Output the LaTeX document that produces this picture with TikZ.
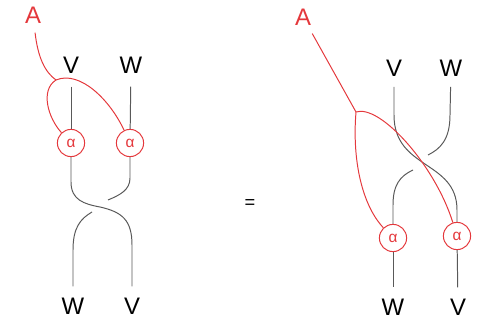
\documentclass[tikz,border=0pt]{standalone}
\usepackage{fontspec}
\setmainfont{Liberation Sans}
\definecolor{knotred}{RGB}{228,56,60}
\tikzset{
  lbl/.style={font=\fontsize{17}{19}\selectfont, inner sep=0pt},
  strand/.style={draw=black!65, line width=0.7pt},
  actline/.style={draw=knotred, line width=0.7pt},
  alphanode/.style={circle, draw=knotred, text=knotred, line width=0.7pt,
    minimum size=0.68cm, inner sep=0pt, font=\fontsize{11}{13}\selectfont}
}
\begin{document}
\begin{tikzpicture}[x=0.025cm,y=-0.025cm]
    %\draw[help lines,step=20] (0,0) grid (480,320);
    \useasboundingbox (0,0) rectangle (480,320);
    % left hand side
       \node[lbl,text=knotred] (a1) at (33,15) {A};
       \node[lbl] (v1) at (71,65) {V};
       \node[lbl] (w1) at (131,65) {W};
       \node[alphanode] (al1) at (71,143) {α};
       \node[alphanode] (al2) at (130,143) {α};
       \node[lbl] (w1b) at (73,306) {W};
       \node[lbl] (v1b) at (132,306) {V};
       \coordinate (br1) at (56,80);
       \coordinate (gap1a) at (108,200);
       \coordinate (gap1b) at (92,212);
       \draw[strand,shorten <=0.33cm] (v1) -- (al1);
       \draw[strand,shorten <=0.33cm] (w1) -- (al2);
       \draw[strand,shorten >=0.28cm] (al1) -- (71,182) .. controls (71,200) and (84,204) .. (100,207) .. controls (122,212) and (132,220) .. (132,245) -- (v1b);
       \draw[strand] (al2) -- (130,178) .. controls (130,190) and (120,195) .. (gap1a);
       \draw[strand,shorten >=0.28cm] (gap1b) .. controls (80,219) and (73,228) .. (73,250) -- (w1b);
       \draw[actline,shorten <=0.23cm] (a1) .. controls (38,58) and (45,72) .. (br1);
       \draw[actline] (br1) .. controls (40,90) and (48,118) .. (al1);
       \draw[actline] (br1) .. controls (80,70) and (110,100) .. (al2);
    \node[lbl,font=\fontsize{13}{15}\selectfont] (eq) at (250,204) {=};
    % right hand side
       \node[lbl,text=knotred] (a2) at (303,17) {A};
       \node[lbl] (v2) at (394,68) {V};
       \node[lbl] (w2) at (451,68) {W};
       \node[alphanode] (al3) at (393,238) {α};
       \node[alphanode] (al4) at (457,236) {α};
       \node[lbl] (w2b) at (393,307) {W};
       \node[lbl] (v2b) at (458,307) {V};
       \coordinate (br2) at (356,112);
       \coordinate (gap2a) at (428,155);
       \coordinate (gap2b) at (413,170);
       \draw[strand,shorten <=0.26cm] (v2) -- (394,115) .. controls (394,170) and (457,160) .. (457,210) -- (al4);
       \draw[strand,shorten <=0.26cm] (w2) -- (450,115) .. controls (450,140) and (440,149) .. (gap2a);
       \draw[strand] (gap2b) .. controls (400,176) and (393,185) .. (393,205) -- (al3);
       \draw[strand,shorten >=0.28cm] (al3) -- (w2b);
       \draw[strand,shorten >=0.28cm] (al4) -- (v2b);
       \draw[actline,shorten <=0.23cm] (a2) -- (br2);
       \draw[actline] (br2) .. controls (352,160) and (362,205) .. (al3);
       \draw[actline] (br2) .. controls (380,104) and (435,165) .. (al4);
\end{tikzpicture}
\end{document}
